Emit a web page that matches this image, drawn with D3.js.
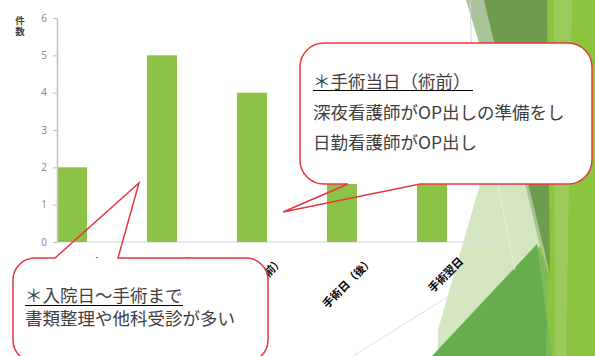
<!DOCTYPE html>
<html><head><meta charset="utf-8">
<script src="https://cdn.jsdelivr.net/npm/d3@7"></script>
<style>
html,body{margin:0;padding:0;background:#fff;}
svg{display:block;}
</style></head>
<body>
<svg id="c" width="595" height="356"></svg>
<script>
// ---- data ----
const categories = ["入院日", "手術前日", "手術日（前）", "手術日（後）", "手術翌日"];
const counts = [2, 5, 4, 3, 2];
const yTicks = [0, 1, 2, 3, 4, 5, 6];
const yTitle = "件数";
const noteA = ["＊手術当日（術前）", "深夜看護師がOP出しの準備をし", "日勤看護師がOP出し"];
const noteB = ["＊入院日～手術まで", "書類整理や他科受診が多い"];

const svg = d3.select("#c");
const cjk = "'Noto Sans CJK JP','Noto Sans',sans-serif";

// ---- background decoration (slide theme) ----
const bg = svg.append("g");
const polys = [
  {p:[[538,0],[595,0],[595,356],[528,356]], c:"#8cc43f", o:1},
  {p:[[554,0],[572,0],[566,356],[555,356]], c:"#a3cf68", o:0.7},
  {p:[[466,0],[500,0],[549,274]], c:"#a9c39a", o:1},
  {p:[[484,0],[547,0],[550,274]], c:"#6f9c4c", o:1},
  {p:[[480,184],[525,184],[540,246],[438,356],[438,330]], c:"#d3e6bf", o:1},
  {p:[[537,244],[432,356],[552,356]], c:"#67ad4c", o:1},
  {p:[[537,244],[552,356],[546,356],[548,272]], c:"#7db95a", o:1}
];
polys.forEach(d => bg.append("polygon")
  .attr("points", d.p.map(q => q.join(",")).join(" "))
  .attr("fill", d.c).attr("opacity", d.o));
bg.append("line").attr("x1",470).attr("y1",0).attr("x2",476).attr("y2",184).attr("stroke","#d8d8d8").attr("stroke-width",1);
bg.append("line").attr("x1",353).attr("y1",356).attr("x2",470).attr("y2",283).attr("stroke","#e0e0e0").attr("stroke-width",1);
bg.append("line").attr("x1",498).attr("y1",184).attr("x2",515).attr("y2",270).attr("stroke","#e6efe0").attr("stroke-width",1);

// ---- chart ----
const y = d3.scaleLinear().domain([0, 6]).range([242, 18]);
const x = d3.scaleBand().domain(categories).range([57, 447]).paddingInner(2/3).paddingOuter(0);

svg.append("line").attr("x1",57).attr("x2",505).attr("y1",242).attr("y2",242)
  .attr("stroke","#d6d6de").attr("stroke-width",1);

svg.append("g").selectAll("rect").data(counts).join("rect")
  .attr("x", (d,i) => x(categories[i]))
  .attr("width", x.bandwidth())
  .attr("y", d => y(d))
  .attr("height", d => y(0) - y(d))
  .attr("fill", "#8cc346");

const ya = svg.append("g").attr("transform","translate(57,0)")
  .call(d3.axisLeft(y).tickValues(yTicks).tickFormat(d3.format("d")).tickSize(4).tickSizeOuter(0).tickPadding(6));
ya.select(".domain").attr("stroke","#bfbfbf").attr("stroke-width",1.5);
ya.selectAll(".tick line").attr("stroke","#bfbfbf");
ya.selectAll(".tick text").attr("fill","#8c8c8c").style("font-family","'Noto Sans',sans-serif").style("font-size","10px");

const xa = svg.append("g").attr("transform","translate(0,242)")
  .call(d3.axisBottom(x).tickSize(0));
xa.select(".domain").remove();
xa.selectAll(".tick text")
  .attr("y",0).attr("dy",0)
  .attr("text-anchor","end")
  .attr("transform","translate(32,20) rotate(-45)")
  .attr("fill","#000")
  .style("font-family",cjk).style("font-size","11px").style("font-weight","bold");

svg.append("text")
  .attr("x",20).attr("y",16)
  .attr("fill","#404040")
  .style("writing-mode","vertical-rl")
  .style("text-orientation","upright")
  .style("letter-spacing","1.5px")
  .style("font-family",cjk).style("font-size","9.5px").style("font-weight","bold")
  .text(yTitle);

// ---- callouts ----
const red = "#e6373d";
function callout(box, r, tail, side){
  const [x0,y0,x1,y1] = box;
  const g = svg.append("g");
  g.append("rect").attr("x",x0).attr("y",y0).attr("width",x1-x0).attr("height",y1-y0)
    .attr("rx",r).attr("fill","#fff");
  const p = d3.path();
  p.moveTo(x0+r, y0);
  if (side === "top") { p.lineTo(tail[0], y0); p.lineTo(tail[2], tail[3]); p.lineTo(tail[1], y0); }
  p.lineTo(x1-r, y0);
  p.arcTo(x1, y0, x1, y0+r, r);
  p.lineTo(x1, y1-r);
  p.arcTo(x1, y1, x1-r, y1, r);
  if (side === "bottom") { p.lineTo(tail[1], y1); p.lineTo(tail[2], tail[3]); p.lineTo(tail[0], y1); }
  p.lineTo(x0+r, y1);
  p.arcTo(x0, y1, x0, y1-r, r);
  p.lineTo(x0, y0+r);
  p.arcTo(x0, y0, x0+r, y0, r);
  p.closePath();
  g.append("path").attr("d", p.toString()).attr("fill","none").attr("stroke",red).attr("stroke-width",1.5);
  return g;
}

const gA = callout([300,43,592,184], 24, [348,420,283,212], "bottom");
const baseA = [88, 119, 149];
gA.selectAll("text").data(noteA).join("text")
  .attr("x",313).attr("y",(d,i)=>baseA[i])
  .attr("fill","#404040")
  .style("font-family",cjk).style("font-size","17.5px")
  .text(d=>d);
gA.append("line").attr("x1",313).attr("x2",473).attr("y1",90.5).attr("y2",90.5).attr("stroke","#000").attr("stroke-width",1);

const gB = callout([13,258,268,362], 22, [55,118,139,183], "top");
const baseB = [302, 325];
gB.selectAll("text").data(noteB).join("text")
  .attr("x",25).attr("y",(d,i)=>baseB[i])
  .attr("fill","#404040")
  .style("font-family",cjk).style("font-size","17.5px")
  .text(d=>d);
gB.append("line").attr("x1",25).attr("x2",183).attr("y1",305.5).attr("y2",305.5).attr("stroke","#000").attr("stroke-width",1);
</script>
</body></html>
